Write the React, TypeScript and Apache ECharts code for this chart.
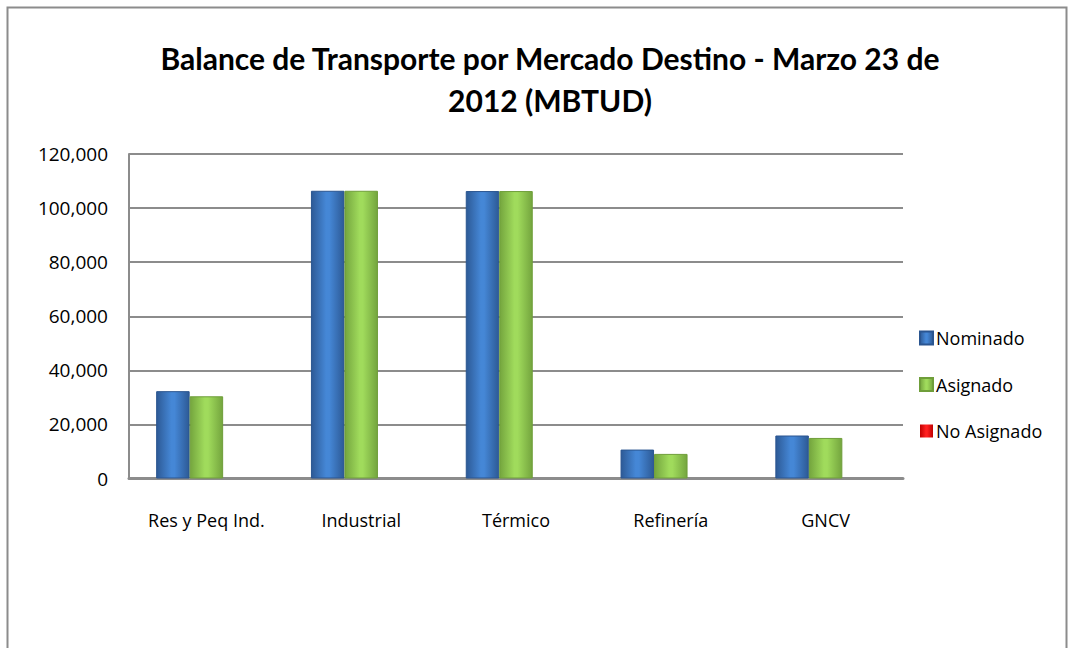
import React, { useEffect, useRef } from "react";
import * as echarts from "echarts";

const categories = ["Res y Peq Ind.", "Industrial", "Térmico", "Refinería", "GNCV"];
const nominado = [32300, 106400, 106300, 10700, 15900];
const asignado = [30400, 106400, 106300, 9100, 15000];
const noAsignado = [0, 0, 0, 0, 0];
const yTicks = { min: 0, max: 120000, interval: 20000 };

const FONT = "Lato, 'Open Sans', sans-serif";
const FONT2 = "'Open Sans', sans-serif";

function grad(edge: string, mid: string) {
  return new echarts.graphic.LinearGradient(0, 0, 1, 0, [
    { offset: 0, color: edge },
    { offset: 0.45, color: mid },
    { offset: 0.55, color: mid },
    { offset: 1, color: edge },
  ]);
}

export default function App() {
  const ref = useRef<HTMLDivElement>(null);
  useEffect(() => {
    document.body.style.margin = "0";
    const chart = echarts.init(ref.current!, null, { renderer: "svg" });
    chart.setOption({
      animation: false,
      backgroundColor: "#ffffff",
      title: {
        text: "Balance de Transporte por Mercado Destino - Marzo 23 de\n2012 (MBTUD)",
        left: 545,
        top: 32,
        textAlign: "center",
        textStyle: {
          fontFamily: FONT,
          fontWeight: "bold",
          fontSize: 30,
          lineHeight: 42,
          color: "#000",
        },
      },
      graphic: [
        {
          type: "rect",
          shape: { x: 7.5, y: 7.5, width: 1059, height: 700 },
          style: { fill: "none", stroke: "#8c8c8c", lineWidth: 2 },
          silent: true,
        },
      ],
      legend: {
        orient: "vertical",
        left: 914,
        top: 324,
        itemWidth: 13,
        itemHeight: 13,
        itemGap: 28.5,
        icon: "rect",
        textStyle: { fontFamily: FONT2, fontSize: 18, color: "#000", padding: [0, 0, 0, -2] },
        data: ["Nominado", "Asignado", "No Asignado"],
      },
      grid: { left: 129, right: 172, top: 154, bottom: 169.5, containLabel: false },
      xAxis: {
        type: "category",
        data: categories,
        axisLine: { lineStyle: { color: "#8c8c8c", width: 3 } },
        axisTick: { show: false },
        axisLabel: { fontFamily: FONT2, fontSize: 18, color: "#000", margin: 32 },
      },
      yAxis: {
        type: "value",
        min: yTicks.min,
        max: yTicks.max,
        interval: yTicks.interval,
        axisLine: { show: true, lineStyle: { color: "#8c8c8c", width: 2 } },
        axisTick: { show: false },
        splitLine: { lineStyle: { color: "#8c8c8c", width: 2 } },
        axisLabel: {
          fontFamily: FONT2,
          fontSize: 19,
          color: "#000",
          margin: 21,
          formatter: (v: number) => v.toLocaleString("en-US"),
        },
      },
      series: [
        {
          name: "Nominado",
          type: "bar",
          data: nominado,
          barWidth: 33.5,
          barGap: "0%",
          itemStyle: { color: grad("#2d5a96", "#4587d6"), borderColor: "#2a5590", borderWidth: 1 },
        },
        {
          name: "Asignado",
          type: "bar",
          data: asignado,
          barWidth: 33.5,
          barGap: "0%",
          itemStyle: { color: grad("#74a53e", "#a0db5c"), borderColor: "#6f9e3a", borderWidth: 1 },
        },
        {
          name: "No Asignado",
          type: "bar",
          data: noAsignado,
          barWidth: 33.5,
          barGap: "0%",
          itemStyle: { color: grad("#c00000", "#ff2020") },
        },
      ],
    });
    return () => chart.dispose();
  }, []);
  return <div ref={ref} style={{ width: 1075, height: 648 }} />;
}
